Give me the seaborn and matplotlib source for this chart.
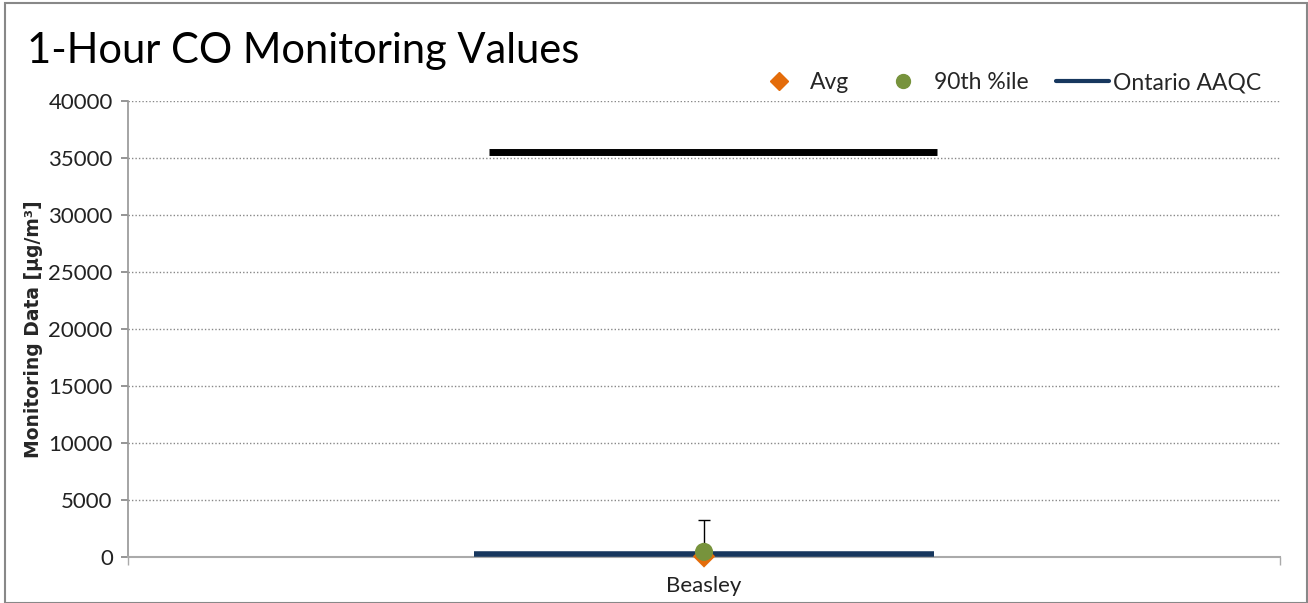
import matplotlib

matplotlib.use("Agg")
import matplotlib.pyplot as plt
import pandas as pd
import seaborn as sns
from matplotlib.lines import Line2D

# values
stations = ["Beasley"]
avg_vals = [50]
p90_vals = [450]
max_vals = [3250]
aaqc_vals = [250]
limit_vals = [35500]

y_ticks = [0, 5000, 10000, 15000, 20000, 25000, 30000, 35000, 40000]

ORANGE = "#E46C0A"
GREEN = "#77933C"
NAVY = "#17375E"
FONT = ["Lato", "DejaVu Sans"]

df = pd.DataFrame({
    "station": stations,
    "avg": avg_vals,
    "p90": p90_vals,
    "max": max_vals,
    "aaqc": aaqc_vals,
    "limit": limit_vals,
})

sns.set_theme(style="white")
plt.rcParams["font.family"] = FONT

fig = plt.figure(figsize=(13.08, 6.03), dpi=100)
ax = fig.add_axes([0.0979, 0.0763, 0.8807, 0.7562])

# standard lines, drawn across the middle of the category slot
for i, row in df.iterrows():
    ax.hlines(row["limit"], i - 0.187, i + 0.202, color="black", lw=5, zorder=3)
    ax.hlines(row["aaqc"], i - 0.2, i + 0.2, color=NAVY, lw=4, zorder=3)
    ax.vlines(i, row["p90"], row["max"], color="black", lw=1, zorder=4)
    ax.hlines(row["max"], i - 0.005, i + 0.005, color="black", lw=1, zorder=4)

sns.scatterplot(data=df, x="station", y="avg", marker="D", s=130, color=ORANGE,
                edgecolor="none", ax=ax, zorder=5, clip_on=False)
sns.scatterplot(data=df, x="station", y="p90", marker="o", s=170, color=GREEN,
                edgecolor="none", ax=ax, zorder=6, clip_on=False)

ax.set_xlim(-0.5, len(stations) - 0.5)
ax.set_ylim(0, 40000)
ax.set_yticks(y_ticks)
ax.set_yticklabels([str(t) for t in y_ticks], fontsize=16, color="#222222")
ax.set_xticks(range(len(stations)))
ax.set_xticklabels(stations, fontsize=16, color="#222222")
ax.tick_params(axis="x", length=0, pad=14)
ax.tick_params(axis="y", length=5, color="#888888", direction="out", left=True, pad=6)
ax.set_xticks([-0.5, len(stations) - 0.5], minor=True)
ax.tick_params(axis="x", which="minor", length=6, color="#aaaaaa", bottom=True)

ax.grid(axis="y", linestyle=(0, (1, 1.5)), color="#888888", lw=1)
ax.set_axisbelow(True)
for side in ["top", "right"]:
    ax.spines[side].set_visible(False)
ax.spines["left"].set_color("#999999")
ax.spines["bottom"].set_color("#aaaaaa")
ax.spines["bottom"].set_linewidth(1.5)

ax.set_xlabel("")
ax.set_ylabel("Monitoring Data [µg/m³]", fontsize=13.5, fontweight="bold", labelpad=4,
              family="DejaVu Sans")

fig.text(0.021, 0.895, "1-Hour CO Monitoring Values", fontsize=30, color="black")

handles = [
    Line2D([], [], marker="D", color=ORANGE, ls="none", ms=9),
    Line2D([], [], marker="o", color=GREEN, ls="none", ms=10),
    Line2D([], [], color=NAVY, lw=3),
]
fig.legend(handles, ["Avg", "90th %ile", "Ontario AAQC"], loc="center right",
           bbox_to_anchor=(0.98, 0.863), ncol=3, frameon=False, fontsize=16.5,
           handlelength=2.3, columnspacing=1.2, handletextpad=0.2)

# outer chart border
fig.add_artist(plt.Rectangle((0.004, 0.0), 0.995, 0.995, transform=fig.transFigure,
                             fill=False, edgecolor="#888888", lw=1.5))

fig.savefig("out.png", dpi=100)
plt.close(fig)
